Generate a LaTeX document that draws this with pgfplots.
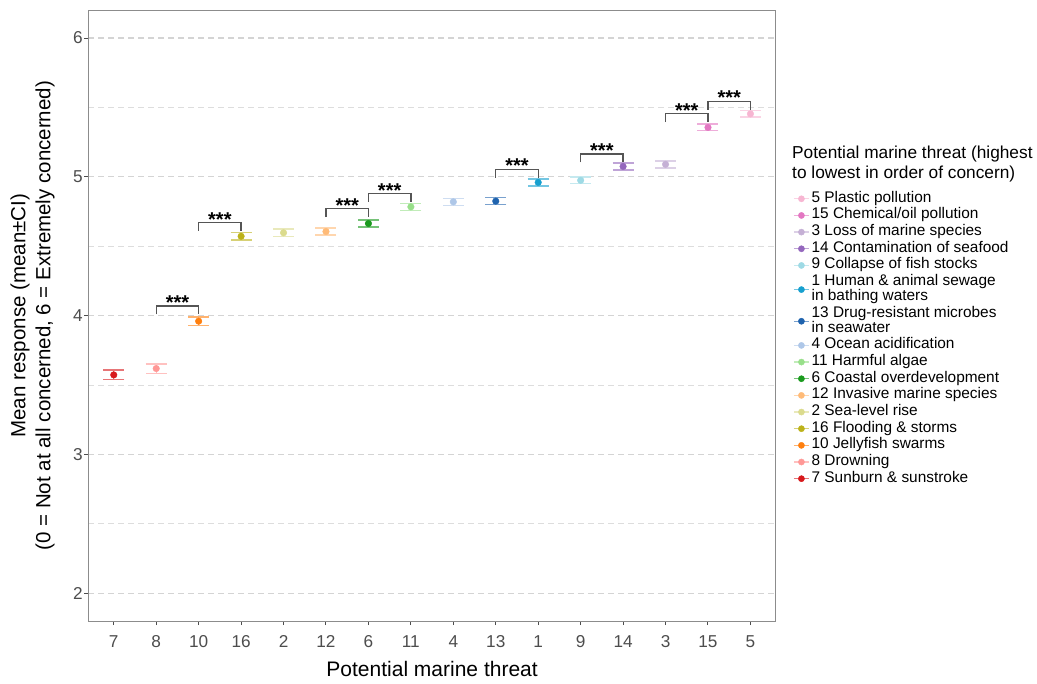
\documentclass[border=0pt]{standalone}
\usepackage{pgfplots}
\pgfplotsset{compat=1.18}
\usepackage{fontspec}
\setmainfont{Liberation Sans}

\definecolor{c5}{HTML}{F7B6D2}
\definecolor{c15}{HTML}{E377C2}
\definecolor{c3}{HTML}{C5B0D5}
\definecolor{c14}{HTML}{9467BD}
\definecolor{c9}{HTML}{9EDAE5}
\definecolor{c1}{HTML}{17A0CF}
\definecolor{c13}{HTML}{1F63AE}
\definecolor{c4}{HTML}{AEC7E8}
\definecolor{c11}{HTML}{98DF8A}
\definecolor{c6}{HTML}{1A9A1E}
\definecolor{c12}{HTML}{FFBB78}
\definecolor{c2}{HTML}{DBDB8D}
\definecolor{c16}{HTML}{BCB21A}
\definecolor{c10}{HTML}{FF7F0E}
\definecolor{c8}{HTML}{FF9896}
\definecolor{c7}{HTML}{D7191C}
\definecolor{tickgray}{HTML}{4D4D4D}
\definecolor{gridgray}{HTML}{D4D4D4}
\definecolor{bordergray}{HTML}{8C8C8C}
\definecolor{bkt}{HTML}{555555}

\newcommand\ticfont{\fontsize{17.2bp}{20bp}\selectfont}
\newcommand\legfont{\fontsize{15.4bp}{15bp}\selectfont}
\newcommand\starfont{\fontsize{20bp}{22bp}\selectfont\bfseries}

\pgfplotsset{
  thr/.style={only marks, mark=*, mark size=3.3bp, color=#1,
    mark options={fill=#1, draw=#1},
    /pgfplots/legend image code/.code={
      \draw[draw=#1!60!white, line width=1.4bp] (0bp,0bp) -- (15bp,0bp);
      \draw[#1] plot[mark=*, mark size=3.1bp, mark options={fill=#1,draw=#1}] coordinates {(7.5bp,0bp)};
    },
    error bars/.cd, y dir=both, y explicit, error mark=|,
    error bar style={draw=#1!60!white, line width=1.4bp},
    error mark options={draw=#1!60!white, line width=1.4bp, mark size=10.5bp},
  },
  bracket/.style={forget plot, draw=bkt, line width=1.3bp, mark=none},
}

\begin{document}
\begin{tikzpicture}
\useasboundingbox (0,0) rectangle (1037bp,684bp);
\begin{axis}[
  at={(88.3bp,63bp)}, anchor=south west,
  width=687.6bp, height=610.7bp, scale only axis,
  xmin=0.4, xmax=16.6, ymin=1.8, ymax=6.2,
  xtick={1,...,16},
  xticklabels={7,8,10,16,2,12,6,11,4,13,1,9,14,3,15,5},
  ytick={2,3,4,5,6},
  minor ytick={2.5,3.5,4.5,5.5},
  minor tick length=0pt,
  ymajorgrids, yminorgrids,
  major grid style={draw=gridgray, line width=1.2bp, dash pattern=on 6bp off 4bp},
  minor grid style={draw=gridgray!80, line width=1bp, dash pattern=on 6bp off 4bp},
  axis line style={draw=bordergray, line width=1bp},
  tick align=outside, tick pos=left,
  major tick length=4bp,
  major tick style={draw=tickgray, line width=1bp},
  /pgf/number format/assume math mode=true,
  ticklabel style={font=\ticfont, text=tickgray, inner sep=0pt},
  yticklabel style={xshift=-1.3bp},
  xticklabel style={yshift=-10bp},
  xlabel={Potential marine threat},
  xlabel style={font=\fontsize{21bp}{25bp}\selectfont, at={(axis description cs:0.5,0)}, anchor=base, yshift=-55bp},
  ylabel={Mean response (mean±CI)\\(0 = Not at all concerned, 6 = Extremely concerned)},
  ylabel style={font=\fontsize{20.5bp}{25bp}\selectfont, align=center, at={(axis description cs:0,0.5)}, anchor=center, yshift=55.8bp},
  reverse legend,
  legend cell align=left,
  legend style={at={(axis description cs:1.0249,0.7044)}, anchor=north west,
    draw=none, fill=none, inner sep=0pt, row sep=1.1bp, column sep=2bp,
    font=\legfont, cells={align=left}, nodes={inner sep=0pt, text depth=4.4bp}},
]
\addplot[thr=c7]  coordinates {(1,3.573) +- (0,0.034)}; \addlegendentry{7 Sunburn \& sunstroke}
\addplot[thr=c8]  coordinates {(2,3.619) +- (0,0.034)}; \addlegendentry{8 Drowning}
\addplot[thr=c10] coordinates {(3,3.960) +- (0,0.030)}; \addlegendentry{10 Jellyfish swarms}
\addplot[thr=c16] coordinates {(4,4.572) +- (0,0.027)}; \addlegendentry{16 Flooding \& storms}
\addplot[thr=c2]  coordinates {(5,4.597) +- (0,0.026)}; \addlegendentry{2 Sea-level rise}
\addplot[thr=c12] coordinates {(6,4.606) +- (0,0.026)}; \addlegendentry{12 Invasive marine species}
\addplot[thr=c6]  coordinates {(7,4.664) +- (0,0.026)}; \addlegendentry{6 Coastal overdevelopment}
\addplot[thr=c11] coordinates {(8,4.784) +- (0,0.026)}; \addlegendentry{11 Harmful algae}
\addplot[thr=c4]  coordinates {(9,4.820) +- (0,0.026)}; \addlegendentry{4 Ocean acidification}
\addplot[thr=c13] coordinates {(10,4.825) +- (0,0.025)}; \addlegendentry{13 Drug-resistant microbes\\in seawater}
\addplot[thr=c1]  coordinates {(11,4.960) +- (0,0.025)}; \addlegendentry{1 Human \& animal sewage\\in bathing waters}
\addplot[thr=c9]  coordinates {(12,4.975) +- (0,0.025)}; \addlegendentry{9 Collapse of fish stocks}
\addplot[thr=c14] coordinates {(13,5.075) +- (0,0.026)}; \addlegendentry{14 Contamination of seafood}
\addplot[thr=c3]  coordinates {(14,5.090) +- (0,0.025)}; \addlegendentry{3 Loss of marine species}
\addplot[thr=c15] coordinates {(15,5.356) +- (0,0.024)}; \addlegendentry{15 Chemical/oil pollution}
\addplot[thr=c5]  coordinates {(16,5.454) +- (0,0.022)}; \addlegendentry{5 Plastic pollution}

\addplot[bracket] coordinates {(2,4.010) (2,4.070) (3,4.070) (3,4.010)};
\addplot[bracket] coordinates {(3,4.610) (3,4.670) (4,4.670) (4,4.610)};
\addplot[bracket] coordinates {(6,4.710) (6,4.770) (7,4.770) (7,4.710)};
\addplot[bracket] coordinates {(7,4.820) (7,4.880) (8,4.880) (8,4.820)};
\addplot[bracket] coordinates {(10,4.995) (10,5.055) (11,5.055) (11,4.995)};
\addplot[bracket] coordinates {(12,5.105) (12,5.165) (13,5.165) (13,5.105)};
\addplot[bracket] coordinates {(14,5.394) (14,5.454) (15,5.454) (15,5.394)};
\addplot[bracket] coordinates {(15,5.485) (15,5.545) (16,5.545) (16,5.485)};

\foreach \xx/\yy in {2.5/4.070, 3.5/4.670, 6.5/4.770, 7.5/4.880, 10.5/5.055, 12.5/5.165, 14.5/5.454, 15.5/5.545}{
  \edef\temp{\noexpand\node[anchor=base, font=\noexpand\starfont, inner sep=0pt, yshift=-3.5bp] at (axis cs:\xx,\yy) {***};}
  \temp
}
\end{axis}
\node[anchor=north west, align=left, inner sep=0pt, font=\fontsize{17.3bp}{20bp}\selectfont] at (792bp,538bp)
  {Potential marine threat (highest\\to lowest in order of concern)};
\end{tikzpicture}
\end{document}
